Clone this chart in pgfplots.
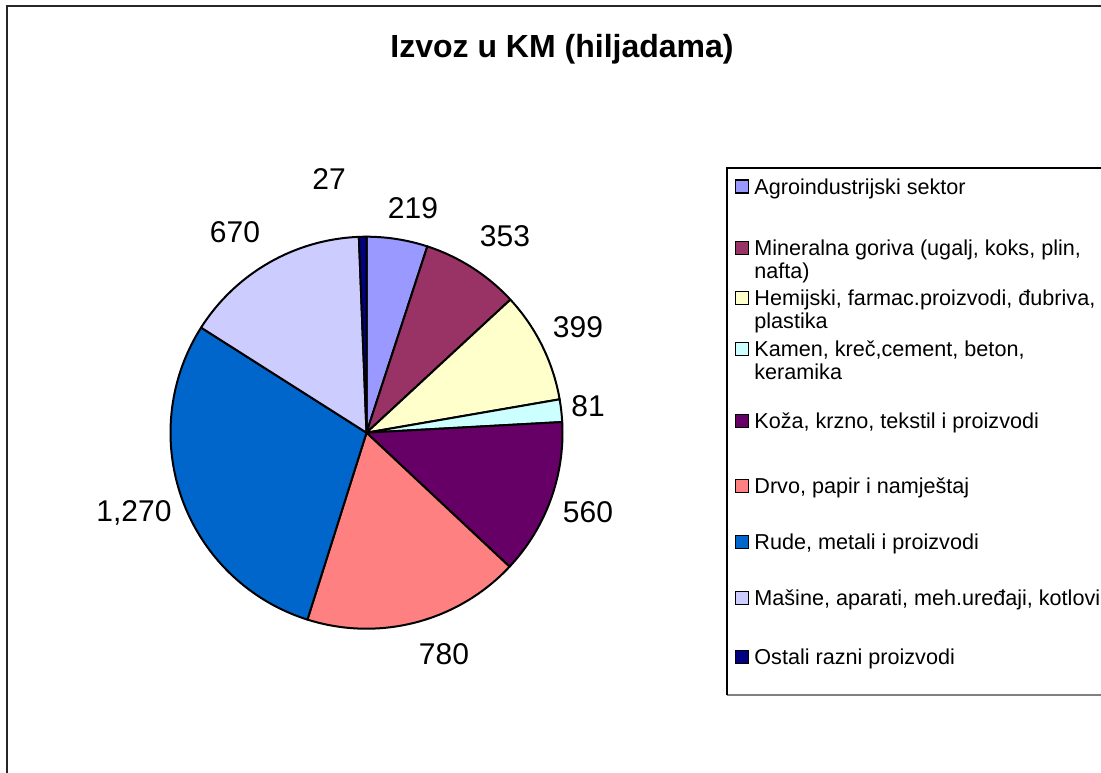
\documentclass[border=0pt]{standalone}
\usepackage{fontspec}
\setmainfont{Liberation Sans}
\usepackage{pgfplots}
\usepackage{pgfplotstable}
\usepackage{etoolbox}
\pgfplotsset{compat=1.18}

% Excel palette, one colour per slice (same order as the table)
\definecolor{c0}{HTML}{9999FF}
\definecolor{c1}{HTML}{993366}
\definecolor{c2}{HTML}{FFFFCC}
\definecolor{c3}{HTML}{CCFFFF}
\definecolor{c4}{HTML}{660066}
\definecolor{c5}{HTML}{FF8080}
\definecolor{c6}{HTML}{0066CC}
\definecolor{c7}{HTML}{CCCCFF}
\definecolor{c8}{HTML}{000080}

% value, label position (px, y down)
\pgfplotstableread{
val  lx   ly
219  413  218
353  505  246
399  578  337.5
81   588  416
560  588  522.5
780  444  664
1270 134  521
670  235  242
27   329  189
}\piedata

\newcommand{\legfont}{\fontsize{10.8pt}{13pt}\selectfont}

\begin{document}
\begin{tikzpicture}
\useasboundingbox (0,0) rectangle (550.5pt,386pt);
\clip (0,0) rectangle (550.5pt,386pt);

\pgfplotstablegetrowsof{\piedata}
\pgfmathtruncatemacro{\nlast}{\pgfplotsretval-1}
\gdef\total{0}
\foreach \i in {0,...,\nlast}{%
  \pgfplotstablegetelem{\i}{val}\of\piedata
  \pgfmathsetmacro{\tmp}{\total+\pgfplotsretval}%
  \xdef\total{\tmp}%
}
\gdef\cum{0}
\gdef\piecmds{}
\foreach \i in {0,...,\nlast}{%
  \pgfplotstablegetelem{\i}{val}\of\piedata \let\pv\pgfplotsretval
  \pgfplotstablegetelem{\i}{lx}\of\piedata \let\lx\pgfplotsretval
  \pgfplotstablegetelem{\i}{ly}\of\piedata \let\ly\pgfplotsretval
  \pgfmathsetmacro{\sa}{90-\cum/\total*360}%
  \pgfmathsetmacro{\tmp}{\cum+\pv}\xdef\cum{\tmp}%
  \pgfmathsetmacro{\ea}{90-\cum/\total*360}%
  \xappto\piecmds{%
    \noexpand\filldraw[fill=c\i, draw=black, line width=1pt, line join=round]
      (axis cs:366.5,432.7) -- ++(\sa:98pt) arc[start angle=\sa, end angle=\ea, radius=98pt] -- cycle;
    \noexpand\node[anchor=base, inner sep=0pt, font=\noexpand\fontsize{15pt}{18pt}\noexpand\selectfont]
      at (axis cs:\lx,\ly) {\noexpand\pgfmathprintnumber[assume math mode=true, 1000 sep={,}]{\pv}};
  }%
}

\begin{axis}[
  x=0.5pt, y=0.5pt,
  xmin=0, xmax=1101, ymin=0, ymax=772,
  y dir=reverse,
  hide axis, clip=false,
  anchor=south west, at={(0,0)},
]
% chart frame
\draw[line width=1pt, black!85] (axis cs:7.3,5.7) rectangle (axis cs:1130,800);
\node[anchor=base, font=\bfseries\fontsize{16pt}{19pt}\selectfont]
  at (axis cs:562,57.5) {Izvoz u KM (hiljadama)};

\piecmds

% legend
\draw[gray, line width=1.2pt] (axis cs:727,695) -- (axis cs:1130,695);
\draw[black, line width=0.6pt] (axis cs:727,695) -- (axis cs:727,168) -- (axis cs:1130,168);
\tikzset{lsq/.style={draw=black, line width=0.9pt}, ltx/.style={anchor=base west, inner sep=0pt, font=\legfont}}
\filldraw[lsq, fill=c0] (axis cs:735.5,180) rectangle (axis cs:748.5,193);
\node[ltx] at (axis cs:754,194.3) {Agroindustrijski sektor};
\filldraw[lsq, fill=c1] (axis cs:735.5,241.5) rectangle (axis cs:748.5,254.5);
\node[ltx] at (axis cs:754,255.7) {Mineralna goriva (ugalj, koks, plin,};
\node[ltx] at (axis cs:754,278.7) {nafta)};
\filldraw[lsq, fill=c2] (axis cs:735.5,291.5) rectangle (axis cs:748.5,304.5);
\node[ltx] at (axis cs:754,305.7) {Hemijski, farmac.proizvodi, đubriva,};
\node[ltx] at (axis cs:754,328.7) {plastika};
\filldraw[lsq, fill=c3] (axis cs:735.5,342.5) rectangle (axis cs:748.5,355.5);
\node[ltx] at (axis cs:754,356.7) {Kamen, kreč,cement, beton,};
\node[ltx] at (axis cs:754,379.7) {keramika};
\filldraw[lsq, fill=c4] (axis cs:735.5,414.5) rectangle (axis cs:748.5,427.5);
\node[ltx] at (axis cs:754,428.7) {Koža, krzno, tekstil i proizvodi};
\filldraw[lsq, fill=c5] (axis cs:735.5,479.5) rectangle (axis cs:748.5,492.5);
\node[ltx] at (axis cs:754,493.7) {Drvo, papir i namještaj};
\filldraw[lsq, fill=c6] (axis cs:735.5,535.5) rectangle (axis cs:748.5,548.5);
\node[ltx] at (axis cs:754,549.7) {Rude, metali i proizvodi};
\filldraw[lsq, fill=c7] (axis cs:735.5,591.5) rectangle (axis cs:748.5,604.5);
\node[ltx] at (axis cs:754,605.7) {Mašine, aparati, meh.uređaji, kotlovi};
\filldraw[lsq, fill=c8] (axis cs:735.5,650.5) rectangle (axis cs:748.5,663.5);
\node[ltx] at (axis cs:754,664.7) {Ostali razni proizvodi};
\end{axis}
\end{tikzpicture}
\end{document}
